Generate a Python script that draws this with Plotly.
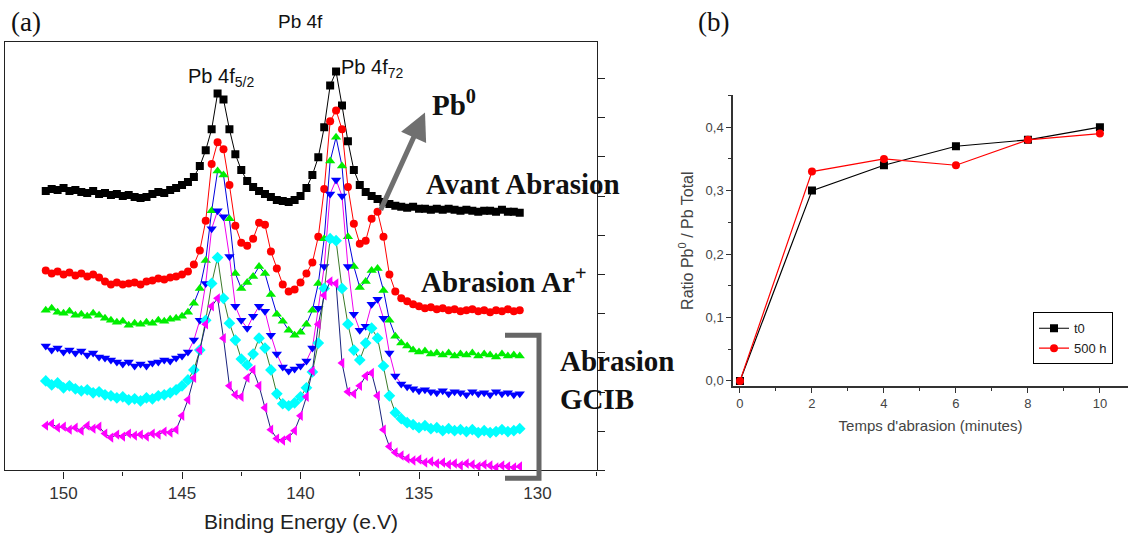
import plotly.graph_objects as go

# ---------------- Panel (a): Pb 4f XPS spectra (intensity, a.u., stacked) ----------------
energy = [150.75, 150.5, 150.25, 150.0, 149.75, 149.5, 149.25, 149.0, 148.75, 148.5,
          148.25, 148.0, 147.75, 147.5, 147.25, 147.0, 146.75, 146.5, 146.25, 146.0,
          145.75, 145.5, 145.25, 145.0, 144.75, 144.5, 144.25, 144.0, 143.75, 143.5,
          143.25, 143.0, 142.75, 142.5, 142.25, 142.0, 141.75, 141.5, 141.25, 141.0,
          140.75, 140.5, 140.25, 140.0, 139.75, 139.5, 139.25, 139.0, 138.75, 138.5,
          138.25, 138.0, 137.75, 137.5, 137.25, 137.0, 136.75, 136.5, 136.25, 136.0,
          135.75, 135.5, 135.25, 135.0, 134.75, 134.5, 134.25, 134.0, 133.75, 133.5,
          133.25, 133.0, 132.75, 132.5, 132.25, 132.0, 131.75, 131.5, 131.25, 131.0,
          130.75]

avant_abrasion = [281, 283, 282, 284, 281, 282, 280, 279, 281, 278,
                  279, 277, 278, 276, 277, 275, 274, 275, 278, 280,
                  279, 282, 284, 287, 290, 295, 306, 322, 343, 379,
                  373, 343, 318, 302, 291, 285, 281, 278, 275, 272,
                  271, 270, 272, 276, 284, 297, 315, 345, 387, 401,
                  367, 331, 302, 287, 280, 276, 273, 270, 268, 266,
                  265, 264, 265, 263, 263, 262, 263, 262, 263, 262,
                  261, 262, 261, 260, 261, 261, 260, 262, 260, 260,
                  259]

abrasion_ar = [201, 198, 200, 197, 199, 196, 198, 195, 197, 194,
               190, 187, 189, 187, 188, 189, 187, 190, 191, 193,
               192, 194, 195, 197, 200, 207, 221, 251, 308, 330,
               323, 287, 246, 229, 226, 233, 249, 247, 220, 203,
               187, 180, 182, 189, 198, 209, 235, 283, 351, 362,
               343, 285, 248, 228, 231, 253, 260, 235, 197, 180,
               173, 170, 167, 165, 163, 164, 162, 163, 161, 162,
               160, 161, 162, 160, 161, 159, 161, 160, 162, 160,
               161]

gcib_1 = [161, 163, 159, 158, 160, 156, 157, 155, 158, 156,
          153, 151, 149, 150, 146, 148, 147, 149, 148, 151,
          150, 152, 153, 155, 159, 168, 183, 211, 261, 301,
          297, 253, 198, 183, 189, 195, 205, 198, 177, 157,
          150, 141, 136, 139, 147, 161, 188, 233, 311, 335,
          306, 235, 205, 184, 190, 201, 203, 181, 151, 135,
          128, 125, 121, 119, 120, 117, 118, 116, 118, 115,
          117, 116, 118, 115, 117, 116, 114, 117, 115, 116,
          115]

gcib_2 = [125, 121, 123, 119, 121, 118, 120, 116, 118, 114,
          113, 111, 109, 107, 109, 105, 107, 105, 108, 109,
          111, 110, 113, 115, 119, 131, 151, 188, 243, 261,
          255, 215, 165, 151, 143, 155, 165, 160, 136, 117,
          104, 100, 102, 105, 110, 123, 163, 205, 278, 292,
          276, 205, 157, 141, 145, 167, 172, 153, 118, 95,
          87, 84, 82, 80, 81, 79, 78, 80, 77, 79,
          78, 76, 79, 77, 78, 76, 79, 77, 78, 76,
          77]

gcib_3 = [90, 86, 88, 83, 85, 82, 80, 81, 78, 79,
          76, 75, 73, 74, 71, 72, 70, 73, 72, 75,
          76, 78, 81, 85, 91, 101, 121, 151, 188, 214,
          173, 148, 131, 112, 106, 117, 133, 123, 101, 77,
          67, 65, 68, 74, 83, 99, 128, 183, 233, 231,
          183, 147, 121, 111, 128, 143, 133, 105, 75, 58,
          52, 48, 46, 43, 45, 42, 43, 40, 42, 40,
          41, 39, 41, 38, 40, 38, 39, 41, 39, 40,
          42]

gcib_4 = [45, 47, 43, 44, 41, 43, 40, 45, 42, 44,
          37, 33, 36, 34, 37, 35, 36, 34, 37, 36,
          39, 38, 41, 55, 71, 93, 121, 147, 165, 173,
          133, 85, 76, 74, 93, 101, 85, 63, 41, 32,
          30, 33, 40, 55, 74, 100, 147, 176, 190, 188,
          108, 79, 77, 85, 95, 98, 75, 41, 24, 18,
          15, 12, 10, 11, 8, 9, 7, 8, 6, 7,
          5, 7, 6, 4, 6, 5, 3, 5, 4, 3,
          4]

energy_ticks = [150, 145, 140, 135, 130]

# ---------------- Panel (b): Pb0 / Pb total ratio ----------------
abrasion_time = [0, 2, 4, 6, 8, 10]
ratio_t0 = [0.0, 0.30, 0.34, 0.37, 0.38, 0.40]
ratio_500h = [0.0, 0.33, 0.35, 0.34, 0.38, 0.39]
ratio_ticks = [0.0, 0.1, 0.2, 0.3, 0.4]
time_ticks = [0, 2, 4, 6, 8, 10]

W, H = 1130, 547
def PX(px):
    return px / W
def PY(py):
    return 1 - py / H

SANS = "Liberation Sans, Arial, sans-serif"
SERIF = "Liberation Serif, Times New Roman, serif"

fig = go.Figure()

spectra = [
    (avant_abrasion, "#000000", "#000000", "square", 8),
    (abrasion_ar, "#ff0000", "#ff0000", "circle", 8),
    (gcib_1, "#00ee00", "#0000dd", "triangle-up", 9),
    (gcib_2, "#0000ff", "#ee00ee", "triangle-down", 9),
    (gcib_3, "#00ffff", "#3c7a2a", "diamond", 9),
    (gcib_4, "#ff00ff", "#1a237e", "triangle-left", 9),
]
for vals, mcol, lcol, sym, size in spectra:
    fig.add_trace(go.Scatter(
        x=energy, y=vals, mode="lines+markers", xaxis="x", yaxis="y",
        line=dict(color=lcol, width=1),
        marker=dict(color=mcol, symbol=sym, size=size, line=dict(width=0)),
        showlegend=False, hoverinfo="skip"))

fig.add_trace(go.Scatter(
    x=abrasion_time, y=ratio_t0, mode="lines+markers", name="t0",
    xaxis="x2", yaxis="y2", line=dict(color="#000000", width=1.2),
    marker=dict(symbol="square", size=8, color="#000000")))
fig.add_trace(go.Scatter(
    x=abrasion_time, y=ratio_500h, mode="lines+markers", name="500 h",
    xaxis="x2", yaxis="y2", line=dict(color="#ff0000", width=1.2),
    marker=dict(symbol="circle", size=8, color="#ff0000")))

axis_col = "#222222"
fig.update_layout(
    width=W, height=H, margin=dict(l=0, r=0, t=0, b=0),
    paper_bgcolor="white", plot_bgcolor="white",
    separators=",.",
    xaxis=dict(
        domain=[PX(5), PX(597)], range=[152.47, 127.49], anchor="y",
        tickvals=energy_ticks, ticks="outside", ticklen=7, tickcolor=axis_col,
        minor=dict(dtick=2.5, tick0=130, ticks="outside", ticklen=4, tickcolor=axis_col),
        showline=True, linecolor=axis_col, linewidth=1.3, mirror=True,
        showgrid=False, zeroline=False,
        tickfont=dict(family=SANS, size=17, color="#333333"),
        title=dict(text="Binding Energy (e.V)", font=dict(family=SANS, size=21, color="#222222"),
                   standoff=12)),
    yaxis=dict(
        domain=[PY(473), PY(42)], range=[0, 431], anchor="x", side="right",
        tick0=0, dtick=39.4, ticks="outside", ticklen=7, tickcolor=axis_col,
        showticklabels=False, showline=True, linecolor=axis_col, linewidth=1.3,
        mirror=True, showgrid=False, zeroline=False),
    xaxis2=dict(
        domain=[PX(733), PX(1128)], range=[-0.194, 10.78], anchor="y2",
        tickvals=time_ticks, ticks="outside", ticklen=5, tickcolor="#333",
        minor=dict(dtick=1, tick0=0, ticks="outside", ticklen=3, tickcolor="#333"),
        showline=True, linecolor="#333333", linewidth=1.5,
        showgrid=False, zeroline=False,
        tickfont=dict(family=SANS, size=13, color="#444444"),
        title=dict(text="Temps d'abrasion (minutes)", font=dict(family=SANS, size=15, color="#444444"),
                   standoff=10)),
    yaxis2=dict(
        domain=[PY(388), PY(96)], range=[-0.0078, 0.45], anchor="x2",
        tickvals=ratio_ticks, tickformat=".1f", ticks="outside", ticklen=5, tickcolor="#333",
        minor=dict(dtick=0.05, tick0=0, ticks="outside", ticklen=3, tickcolor="#333"),
        showline=True, linecolor="#333333", linewidth=1.5,
        showgrid=False, zeroline=False,
        tickfont=dict(family=SANS, size=13, color="#444444"),
        title=dict(text="Ratio Pb<sup>0</sup> / Pb Total", font=dict(family=SANS, size=16, color="#444444"),
                   standoff=8)),
    legend=dict(x=PX(1033), y=PY(314), xanchor="left", yanchor="top",
                bgcolor="white", bordercolor="#000000", borderwidth=1,
                font=dict(family=SANS, size=13, color="#222222"),
                tracegroupgap=0, itemwidth=30),
)

def txt(text, x, y, font, size, xanchor="left", bold=False, align="left"):
    t = f"<b>{text}</b>" if bold else text
    fig.add_annotation(text=t, x=PX(x), y=PY(y), xref="paper", yref="paper",
                       xanchor=xanchor, yanchor="middle", showarrow=False, align=align,
                       font=dict(family=font, size=size, color="#111111"))

txt("(a)", 9, 22, SERIF, 27)
txt("(b)", 696, 22, SERIF, 27)
txt("Pb 4f", 300, 22, SANS, 19, xanchor="center")
txt("Pb 4f<sub>5/2</sub>", 186, 78, SANS, 20)
txt("Pb 4f<sub>72</sub>", 339, 69, SANS, 20)
txt("Pb<sup>0</sup>", 430, 104, SERIF, 29, bold=True)
txt("Avant Abrasion", 424, 185, SERIF, 29, bold=True)
txt("Abrasion Ar<sup>+</sup>", 419, 282, SERIF, 29, bold=True)
txt("Abrasion<br>GCIB", 558, 382, SERIF, 29, bold=True)

# Pb0 arrow
fig.add_annotation(x=PX(425), y=PY(113), xref="paper", yref="paper",
                   ax=-45, ay=99, text="", showarrow=True,
                   arrowhead=2, arrowsize=1.1, arrowwidth=5, arrowcolor="#707070")

# GCIB bracket
fig.add_shape(type="path", xref="paper", yref="paper",
              path=f"M {PX(505)},{PY(337)} L {PX(539)},{PY(337)} L {PX(539)},{PY(481)} L {PX(505)},{PY(481)}",
              line=dict(color="#666666", width=5))

fig.write_html("out.html", config={"displayModeBar": False},
               post_script="document.body.style.margin='0';document.body.style.overflow='hidden';")
